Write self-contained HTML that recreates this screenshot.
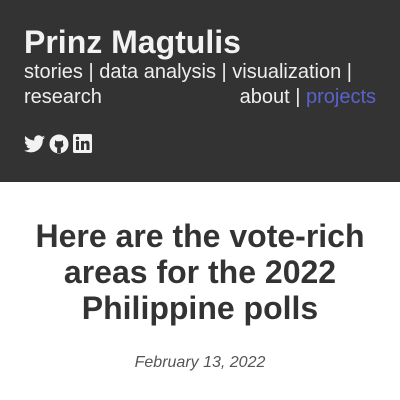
<!DOCTYPE html>
<html><head><meta charset="utf-8"><style>
*{margin:0;padding:0;box-sizing:border-box}
html,body{width:400px;height:400px;overflow:hidden;background:#fff;font-family:"Liberation Sans",sans-serif}
header{position:absolute;left:0;top:0;width:400px;height:182px;background:#333;color:#f2f2f2}
.brand{position:absolute;left:24px;top:24px;font-size:32px;font-weight:bold;line-height:36px;color:#f2f2f2}
.nav{position:absolute;left:24px;top:60px;width:352px;font-size:20px;line-height:25px;color:#eee}
.nav2{position:absolute;right:24px;top:85px;font-size:20px;line-height:25px;color:#eee}
.nav2 a{color:#5b62c9;text-decoration:none}
.icons{position:absolute;left:24px;top:134px;display:flex;gap:4px}
h1{position:absolute;left:0;top:218px;width:400px;text-align:center;font-size:32px;line-height:36px;font-weight:bold;color:#333}
.date{position:absolute;left:0;top:354px;width:400px;text-align:center;font-style:italic;font-size:16px;color:#555}
</style></head><body>
<header>
<div class="brand">Prinz Magtulis</div>
<div class="nav">stories | data analysis | visualization |<br>research</div>
<div class="nav2"><span>about</span> | <a>projects</a></div>
<div class="icons">
<svg width="21" height="20" viewBox="0 0 24 20"><path fill="#f2f2f2" d="M24 2.4c-.9.4-1.8.6-2.8.8 1-.6 1.800-1.600 2.200-2.700-1 .6-2 1-3.100 1.200C19.4.7 18.1 0 16.6 0c-2.700 0-4.900 2.200-4.900 4.900 0 .4 0 .8.1 1.100C7.700 5.800 4.100 3.900 1.700.9c-.4.7-.7 1.600-.7 2.500 0 1.700.9 3.200 2.200 4.100-.8 0-1.600-.2-2.200-.6v.1c0 2.400 1.700 4.400 3.900 4.800-.4.1-.8.2-1.300.2-.3 0-.6 0-.9-.1.6 2 2.400 3.400 4.600 3.400-1.700 1.300-3.800 2.100-6.100 2.100-.4 0-.8 0-1.200-.1 2.200 1.400 4.800 2.200 7.500 2.200 9.100 0 14-7.500 14-14v-.6c1-.7 1.800-1.600 2.500-2.500z"/></svg>
<svg width="20" height="20" viewBox="0 0 20 20"><circle cx="10" cy="10" r="9.5" fill="#f2f2f2"/><path fill="#333" d="M6 6l1.6 1.2h4.8L14 6v3.5c.5.8.5 2 0 2.8-.6 1-1.8 1.4-2.6 1.5.4.4.5 1 .5 1.5V19H8.1v-3.7c0-.5.1-1.1.5-1.5-.8-.1-2-.5-2.6-1.5-.5-.8-.5-2 0-2.8z"/></svg>
<svg width="19" height="19" viewBox="0 0 19 19"><rect width="19" height="19" rx="1.5" fill="#f2f2f2"/><rect x="3" y="7" width="3" height="9" fill="#333"/><circle cx="4.5" cy="4.3" r="1.7" fill="#333"/><path fill="#333" d="M8 7h3v1.3c.6-1 1.6-1.5 2.8-1.5 2 0 2.7 1.3 2.7 3.4V16h-3v-5.2c0-1-.3-1.6-1.2-1.6-1 0-1.3.7-1.3 1.7V16H8z"/></svg>
</div>
</header>
<h1>Here are the vote-rich<br>areas for the 2022<br>Philippine polls</h1>
<div class="date">February 13, 2022</div>
</body></html>
